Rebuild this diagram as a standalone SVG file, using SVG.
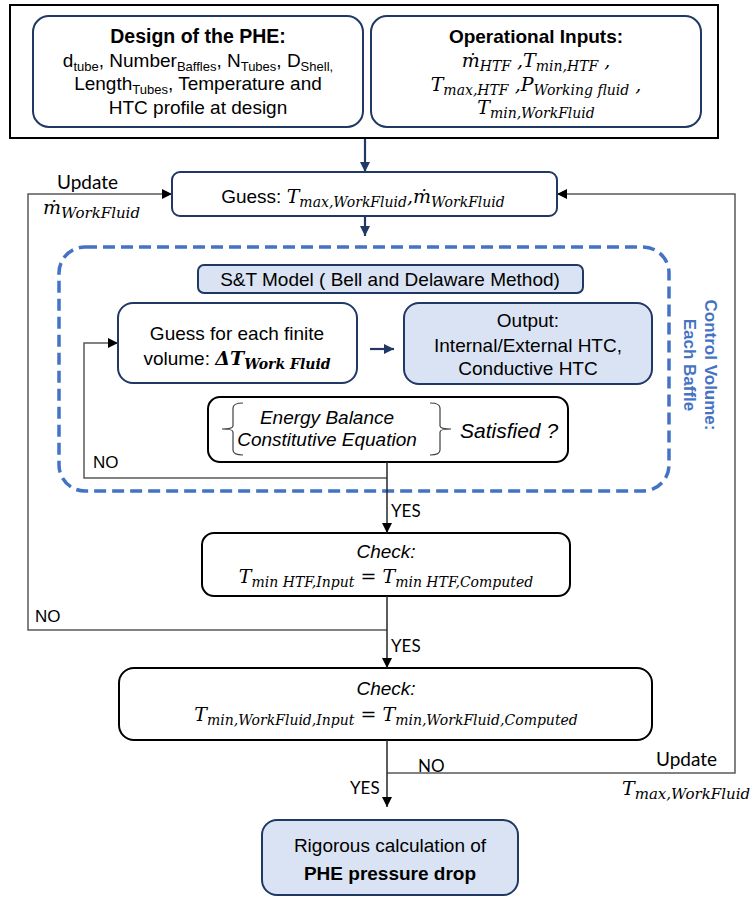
<svg xmlns="http://www.w3.org/2000/svg" width="756" height="900" viewBox="0 0 756 900">
  <defs>
    <style>
      .txt { font-family: "Liberation Sans", Arial, sans-serif; font-size: 19px; fill: #000; }
      .b { font-weight: bold; }
      .it { font-style: italic; }
      .sub { font-size: 13px; }
      .math { font-family: "DejaVu Serif", "Liberation Serif", serif; font-style: italic; font-size: 19px; fill: #000; }
      .msub { font-size: 14px; }
      .lbl { font-family: Lato, "Liberation Sans", sans-serif; font-size: 17px; fill: #000; }
      .node { fill: #fff; stroke: #1F3864; stroke-width: 2; }
      .node-fill { fill: #DAE3F3; stroke: #1F3864; stroke-width: 2; }
      .box-black { fill: #fff; stroke: #000; stroke-width: 2; }
      .flow { fill: none; stroke: #595959; stroke-width: 1.5; }
      .flow-dark { fill: none; stroke: #262626; stroke-width: 1.5; }
      .flow-navy { fill: none; stroke: #1F3864; stroke-width: 2.2; }
      .cv { fill: none; stroke: #4472C4; stroke-width: 3.5; stroke-dasharray: 12 6; }
      .brace { fill: none; stroke: #404040; stroke-width: 1.2; }
    </style>
    <marker id="arrow-black" viewBox="0 0 10 10" refX="10" refY="5" markerWidth="10" markerHeight="10" markerUnits="userSpaceOnUse" orient="auto">
      <path d="M0,0 L10,5 L0,10 z" fill="#000"/>
    </marker>
    <marker id="arrow-navy" viewBox="0 0 10 10" refX="10" refY="5" markerWidth="10" markerHeight="10" markerUnits="userSpaceOnUse" orient="auto">
      <path d="M0,0 L10,5 L0,10 z" fill="#1F3864"/>
    </marker>
  </defs>

  <rect width="756" height="900" fill="#fff"/>

  <!-- input frame -->
  <g id="inputs-frame">
    <rect x="10" y="5" width="708" height="133" fill="none" stroke="#000" stroke-width="2"/>
  </g>

  <g id="design">
    <rect class="node" x="33" y="16" width="330" height="111" rx="16"/>
    <text class="txt b" x="198" y="43" text-anchor="middle" style="font-size:19.5px">Design of the PHE:</text>
    <text class="txt" x="198" y="67" text-anchor="middle">d<tspan class="sub" dy="4">tube</tspan><tspan dy="-4">, Number</tspan><tspan class="sub" dy="4">Baffles</tspan><tspan dy="-4">, N</tspan><tspan class="sub" dy="4">Tubes</tspan><tspan dy="-4">, D</tspan><tspan class="sub" dy="4">Shell,</tspan></text>
    <text class="txt" x="198" y="90" text-anchor="middle">Length<tspan class="sub" dy="4">Tubes</tspan><tspan dy="-4">, Temperature and</tspan></text>
    <text class="txt" x="198" y="114" text-anchor="middle">HTC profile at design</text>
  </g>

  <g id="operational">
    <rect class="node" x="371" y="16" width="330" height="111" rx="16"/>
    <text class="txt b" x="536" y="43" text-anchor="middle">Operational Inputs:</text>
    <text class="math" x="536" y="67" text-anchor="middle">ṁ<tspan class="msub" dy="4">HTF</tspan><tspan dy="-4"> ,T</tspan><tspan class="msub" dy="4">min,HTF</tspan><tspan dy="-4"> ,</tspan></text>
    <text class="math" x="536" y="91" text-anchor="middle">T<tspan class="msub" dy="4">max,HTF</tspan><tspan dy="-4"> ,P</tspan><tspan class="msub" dy="4">Working fluid</tspan><tspan dy="-4"> ,</tspan></text>
    <text class="math" x="536" y="114" text-anchor="middle">T<tspan class="msub" dy="4">min,WorkFluid</tspan></text>
  </g>

  <g id="guess">
    <rect class="node" x="172" y="172" width="385" height="44" rx="8"/>
    <text class="txt" x="363" y="203" text-anchor="middle">Guess: <tspan class="math">T</tspan><tspan class="math msub" dy="4">max,WorkFluid</tspan><tspan class="math" dy="-4">,ṁ</tspan><tspan class="math msub" dy="4">WorkFluid</tspan></text>
  </g>

  <!-- control volume boundary -->
  <g id="control-volume">
    <rect class="cv" x="59" y="247" width="610" height="244" rx="26"/>
    <g transform="translate(705,365) rotate(90)">
      <text class="txt b" x="0" y="0" text-anchor="middle" style="font-size:17px;fill:#4472C4">Control Volume:</text>
      <text class="txt b" x="0" y="21" text-anchor="middle" style="font-size:17px;fill:#4472C4">Each Baffle</text>
    </g>
  </g>

  <g id="st-model">
    <rect class="node-fill" x="198" y="265" width="385" height="28" rx="6"/>
    <text class="txt" x="390" y="286" text-anchor="middle">S&amp;T Model ( Bell and Delaware Method)</text>
  </g>

  <g id="guess-dt">
    <rect class="node" x="118" y="303" width="239" height="80" rx="15"/>
    <text class="txt" x="237" y="340" text-anchor="middle">Guess for each finite</text>
    <text class="txt" x="237" y="365" text-anchor="middle">volume: <tspan class="math" font-weight="bold" font-style="normal">Δ</tspan><tspan class="math" font-weight="bold">T</tspan><tspan class="math msub" font-weight="bold" dy="4">Work Fluid</tspan></text>
  </g>

  <g id="output">
    <rect class="node-fill" x="404" y="303" width="248" height="81" rx="15"/>
    <text class="txt" x="528" y="327" text-anchor="middle">Output:</text>
    <text class="txt" x="528" y="352" text-anchor="middle">Internal/External HTC,</text>
    <text class="txt" x="528" y="375" text-anchor="middle">Conductive HTC</text>
  </g>

  <g id="energy-check">
    <rect class="box-black" x="208" y="397" width="360" height="65" rx="12"/>
    <path class="brace" d="M243,403 Q233,403 233,408 L233,426 Q233,429 222,429 Q233,429 233,432 L233,450 Q233,455 243,455"/>
    <path class="brace" d="M430,403 Q440,403 440,408 L440,426 Q440,429 451,429 Q440,429 440,432 L440,450 Q440,455 430,455"/>
    <text class="txt it" x="327" y="424" text-anchor="middle">Energy Balance</text>
    <text class="txt it" x="327" y="446" text-anchor="middle">Constitutive Equation</text>
    <text class="txt it" x="460" y="438" style="font-size:21px">Satisfied ?</text>
  </g>

  <g id="check-htf">
    <rect class="box-black" x="202" y="533" width="368" height="63" rx="12"/>
    <text class="txt it" x="386" y="558" text-anchor="middle">Check:</text>
    <text class="math" x="386" y="583" text-anchor="middle">T<tspan class="msub" dy="4">min HTF,Input</tspan><tspan dy="-4" font-style="normal"> = </tspan>T<tspan class="msub" dy="4">min HTF,Computed</tspan></text>
  </g>

  <g id="check-wf">
    <rect class="box-black" x="119" y="668" width="533" height="72" rx="15"/>
    <text class="txt it" x="386" y="695" text-anchor="middle">Check:</text>
    <text class="math" x="386" y="721" text-anchor="middle">T<tspan class="msub" dy="4">min,WorkFluid,Input</tspan><tspan dy="-4" font-style="normal"> = </tspan>T<tspan class="msub" dy="4">min,WorkFluid,Computed</tspan></text>
  </g>

  <g id="pressure-drop">
    <rect class="node-fill" x="262" y="820" width="256" height="75" rx="15"/>
    <text class="txt" x="390" y="852" text-anchor="middle">Rigorous calculation of</text>
    <text class="txt b" x="390" y="880" text-anchor="middle">PHE pressure drop</text>
  </g>

  <!-- connectors -->
  <g id="connectors">
    <line class="flow-navy" x1="365" y1="139" x2="365" y2="172" marker-end="url(#arrow-navy)"/>
    <line class="flow-navy" x1="365" y1="216" x2="365" y2="236" marker-end="url(#arrow-navy)"/>
    <line class="flow-navy" x1="370" y1="349" x2="394" y2="349" stroke-width="2.8" marker-end="url(#arrow-navy)"/>

    <!-- outer loop: update mass flow -->
    <polyline class="flow" points="387,630 28,630 28,194 172,194" marker-end="url(#arrow-black)"/>
    <!-- outer loop: update max temperature -->
    <polyline class="flow" points="387,773 735,773 735,194 557,194" marker-end="url(#arrow-black)"/>
    <!-- inner loop -->
    <polyline class="flow" points="387,478 84,478 84,343 118,343" marker-end="url(#arrow-black)"/>

    <line class="flow-dark" x1="387" y1="462" x2="387" y2="533" marker-end="url(#arrow-black)"/>
    <line class="flow-dark" x1="387" y1="596" x2="387" y2="668" marker-end="url(#arrow-black)"/>
    <line class="flow-dark" x1="387" y1="740" x2="387" y2="807" marker-end="url(#arrow-black)"/>

    <text class="lbl" x="57" y="189" style="font-size:19px">Update</text>
    <text class="math" x="43" y="214">ṁ<tspan class="msub" dy="4" style="font-size:15px">WorkFluid</tspan></text>
    <text class="txt" x="93" y="468" style="font-size:17px">NO</text>
    <text class="lbl" x="391" y="517">YES</text>
    <text class="txt" x="35" y="622" style="font-size:17px">NO</text>
    <text class="lbl" x="391" y="652">YES</text>
    <text class="lbl" x="418" y="772">NO</text>
    <text class="lbl" x="656" y="766" style="font-size:19px">Update</text>
    <text class="math" x="622" y="795">T<tspan class="msub" dy="4" style="font-size:15px">max,WorkFluid</tspan></text>
    <text class="lbl" x="350" y="794">YES</text>
  </g>
</svg>
